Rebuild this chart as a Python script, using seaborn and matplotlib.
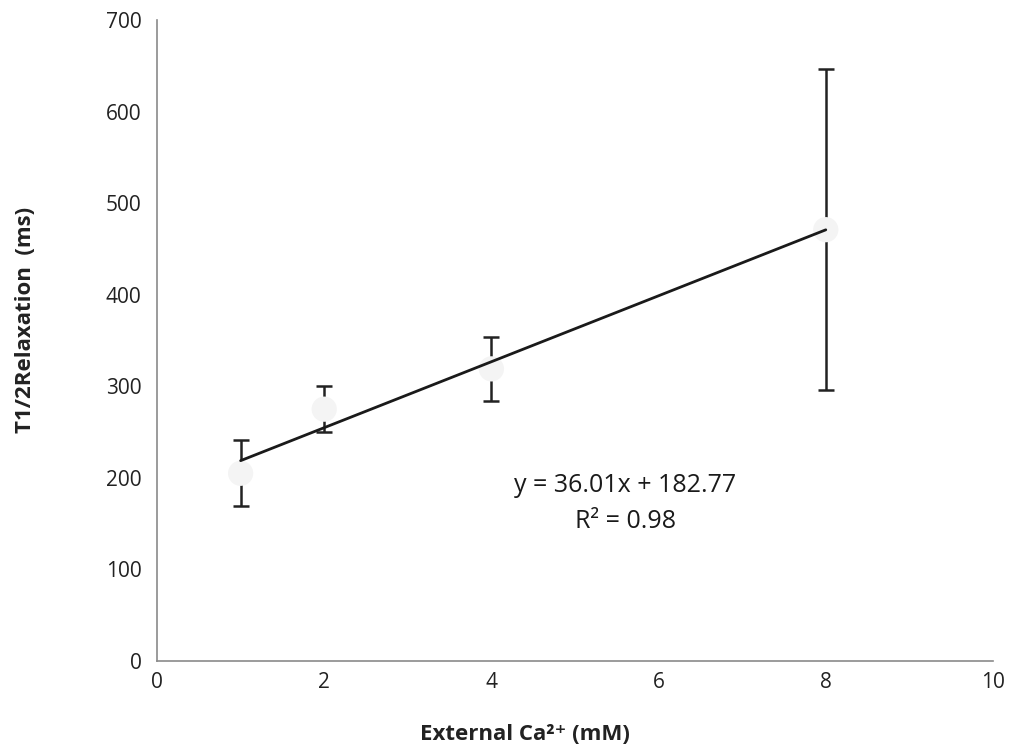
import numpy as np
import pandas as pd
import matplotlib
matplotlib.use("Agg")
import matplotlib.pyplot as plt
import seaborn as sns

# data
calcium_mm = [1, 2, 4, 8]
t_half_ms = [205, 275, 319, 471]
t_half_err = [36, 25, 35, 175]

slope = 36.01
intercept = 182.77
r_squared = 0.98

sns.set_style("white")
plt.rcParams["font.family"] = ["Open Sans", "DejaVu Sans"]

df = pd.DataFrame({"ca": calcium_mm, "t": t_half_ms, "err": t_half_err})

fig = plt.figure(figsize=(10.15, 7.48), dpi=100)
ax = fig.add_axes([0.1547, 0.1163, 0.8236, 0.857])

# error bars
ax.errorbar(df["ca"], df["t"], yerr=df["err"], fmt="none", ecolor="#222222",
            elinewidth=1.8, capsize=6, capthick=1.8, zorder=2)

# faint markers (they hide the bar near the mean, as in the original)
sns.scatterplot(data=df, x="ca", y="t", ax=ax, s=330, color="#f4f4f4",
                edgecolor="none", zorder=3, legend=False)

# linear trend line
fit_x = np.array([min(calcium_mm), max(calcium_mm)])
trend = pd.DataFrame({"ca": fit_x, "t": slope * fit_x + intercept})
sns.lineplot(data=trend, x="ca", y="t", ax=ax, color="#1a1a1a", linewidth=2, zorder=4)

ax.text(5.6, 192, f"y = {slope:.2f}x + {intercept:.2f}", ha="center", va="center",
        fontsize=18, color="#1a1a1a")
ax.text(5.6, 152, f"R² = {r_squared:.2f}", ha="center", va="center",
        fontsize=18, color="#1a1a1a")

ax.set_xlim(0, 10)
ax.set_ylim(0, 700)
ax.set_xticks(range(0, 11, 2))
ax.set_yticks(range(0, 701, 100))

for side in ["top", "right"]:
    ax.spines[side].set_visible(False)
for side in ["left", "bottom"]:
    ax.spines[side].set_color("#8a8a8a")
    ax.spines[side].set_linewidth(1.2)

ax.tick_params(axis="both", which="major", direction="out", length=5, width=1,
               color="#8a8a8a", labelsize=15, labelcolor="#222222")
ax.tick_params(axis="x", pad=3)
ax.tick_params(axis="y", pad=6)

ax.set_xlabel("External Ca²⁺ (mM)", fontsize=16, fontweight="bold", color="#222222")
ax.set_ylabel("T1/2Relaxation  (ms)", fontsize=16, fontweight="bold", color="#222222")
ax.xaxis.set_label_coords(0.44, -0.098)
ax.yaxis.set_label_coords(-0.145, 0.532)

fig.savefig("out.png", dpi=100, facecolor="white")
